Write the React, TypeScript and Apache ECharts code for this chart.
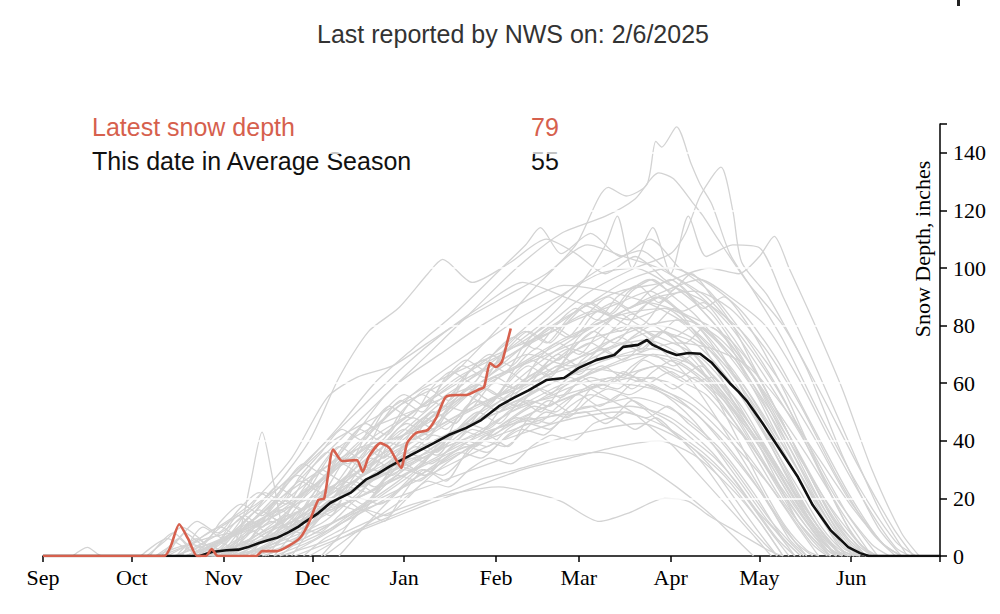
import React, { useEffect, useRef } from "react";
import * as echarts from "echarts";

// ---------- axis definitions ----------
const monthLabels = ["Sep", "Oct", "Nov", "Dec", "Jan", "Feb", "Mar", "Apr", "May", "Jun", "Jul"];
const monthLengths = [30, 31, 30, 31, 31, 28, 31, 30, 31, 30, 1];
const yMax = 150;
const yInterval = 20;

// ---------- text ----------
const titleText = "Last reported by NWS on: 2/6/2025";
const legendLabels = ["Latest snow depth", "This date in Average Season"];
const legendValues = [79, 55];
const yAxisTitle = "Snow Depth, inches";

// ---------- data: [day since Sep 1, inches] ----------
const currentSeason: number[][] = [
  [0, 0], [41, 0], [43, 3], [46, 11], [49, 6], [52, 0], [55, 0], [57, 2.4], [59, 0], [72, 0], [74, 1.7],
  [79, 1.7], [83, 3.5], [87, 6.5], [90, 12], [93, 19.5], [95, 20], [98, 37], [101, 33], [106, 33.3],
  [108, 29.2], [110, 34.4], [114, 39.2], [117, 37.5], [121, 30.6], [123, 39.2], [126, 42.7], [130, 43.8],
  [133, 48.3], [136, 55.2], [140, 55.9], [143, 55.9], [147, 57.7], [149, 58.7], [151, 67], [153, 65.6],
  [155, 67.4], [157, 75], [158, 79],
];

const averageSeason: number[][] = [
  [0, 0], [53, 0], [57, 1.4], [62, 2], [66, 2.2], [69, 3], [73, 4.5], [76, 5.5], [79, 6.3], [83, 8.3],
  [86, 10], [88, 11.5], [91, 13.5], [93, 14.9], [97, 18.4], [100, 20], [104, 22], [109, 26.5], [113, 28.5],
  [117, 31], [121, 33.3], [126, 36], [132, 39.2], [137, 42], [143, 44.5], [148, 47.2], [154, 52],
  [159, 54.9], [164, 57.5], [170, 61.1], [176, 61.8], [181, 65.3], [187, 68.1], [193, 69.8], [196, 72.6],
  [201, 73.3], [204, 75], [206, 73.3], [211, 70.9], [214, 69.8], [218, 70.5], [222, 70.2], [226, 67],
  [232, 60], [235, 57], [238, 53.5], [243, 46.2], [249, 36.8], [255, 27.4], [260, 17.7], [266, 9],
  [272, 3.1], [276, 1], [279, 0], [303, 0],
];

const pastSeasons: number[][][] = [
  [[48,0],[60,5],[75,12],[92,25],[105,38],[120,52],[135,60],[150,75],[165,92],[180,108],[191,128],[197,125],[204,129],[207,144],[209,142],[214,149],[219,136],[222,129],[226,122],[232,105],[240,92],[250,75],[262,50],[275,25],[288,5],[295,0]],
  [[40,0],[55,6],[70,10],[85,22],[100,35],[115,55],[130,70],[145,85],[160,100],[175,112],[190,118],[200,124],[208,133],[213,131],[220,122],[223,118],[228,110],[238,95],[250,80],[262,58],[275,32],[287,10],[294,0]],
  [[60,0],[78,8],[95,20],[110,40],[125,50],[140,62],[155,70],[170,80],[185,92],[200,100],[212,105],[217,112],[222,125],[229,135],[233,120],[236,102],[245,90],[258,65],[270,35],[282,10],[290,0]],
  [[70,0],[85,10],[100,22],[118,35],[135,48],[150,62],[165,75],[180,85],[195,92],[210,95],[225,100],[235,98],[242,104],[247,111],[252,100],[260,82],[270,58],[280,30],[290,8],[296,0]],
  [[45,0],[60,8],[75,20],[90,40],[100,62],[110,78],[120,86],[130,98],[135,103],[145,95],[158,102],[170,110],[180,105],[190,98],[200,104],[210,96],[220,88],[232,74],[245,55],[258,35],[270,15],[280,0]],
  [[50,0],[68,10],[85,28],[100,45],[112,60],[125,72],[140,85],[155,100],[163,108],[168,114],[175,105],[185,112],[195,104],[205,110],[215,100],[225,92],[238,75],[250,55],[262,30],[273,8],[280,0]],
  [[55,0],[72,6],[90,18],[108,30],[125,45],[140,58],[155,70],[170,82],[182,95],[190,108],[194,118],[199,100],[206,114],[212,98],[218,118],[224,104],[233,108],[242,107],[250,90],[260,68],[272,40],[283,15],[292,0]],
  [[38,0],[50,4],[62,0],[75,8],[90,15],[105,30],[120,42],[135,55],[150,65],[165,74],[180,82],[195,88],[205,92],[215,85],[228,78],[240,62],[252,40],[263,18],[272,3],[278,0]],
  [[65,0],[80,5],[95,12],[110,25],[125,38],[140,48],[155,56],[170,66],[185,74],[198,80],[208,76],[220,70],[232,55],[244,38],[255,20],[266,5],[272,0]],
  [[80,0],[95,5],[110,12],[125,18],[140,22],[154,24],[165,22],[175,19],[188,12],[198,15],[210,20],[218,19],[225,14],[235,8],[245,2],[250,0]],
  [[58,0],[72,4],[88,12],[100,20],[115,28],[130,35],[145,42],[158,50],[170,55],[182,60],[195,62],[208,58],[220,52],[232,40],[245,25],[255,10],[262,0]],
  [[75,0],[92,8],[108,18],[122,30],[138,40],[152,52],[168,64],[182,75],[196,85],[210,92],[222,96],[232,90],[244,80],[255,62],[266,40],[278,18],[288,3],[293,0]],
  [[55,0],[65,5],[70,25],[74,43],[78,25],[82,10],[95,15],[110,22],[125,30],[140,38],[155,45],[170,52],[185,58],[200,62],[212,60],[225,50],[238,35],[250,18],[260,4],[265,0]],
  [[62,0],[75,3],[88,10],[102,18],[118,27],[132,38],[148,48],[162,55],[176,62],[190,68],[204,72],[214,70],[226,60],[238,45],[250,28],[262,10],[270,0]],
  [[33,0],[42,6],[50,2],[60,10],[72,18],[85,28],[98,40],[112,48],[128,58],[142,65],[158,72],[172,78],[186,85],[198,82],[210,86],[222,76],[235,60],[248,40],[260,18],[270,3],[276,0]],
  [[72,0],[88,6],[102,14],[118,22],[134,30],[150,38],[166,44],[180,48],[195,50],[210,45],[224,35],[236,22],[246,8],[252,0]],
  [[52,0],[66,8],[82,16],[96,28],[110,38],[125,50],[140,60],[155,68],[170,78],[185,88],[198,96],[212,100],[224,95],[236,85],[248,68],[260,45],[272,22],[283,5],[290,0]],
  [[46,0],[60,10],[70,4],[84,12],[98,22],[112,34],[128,42],[142,50],[158,58],[174,66],[190,72],[204,75],[218,68],[230,55],[242,38],[254,18],[264,4],[270,0]],
  [[68,0],[82,8],[96,18],[110,26],[126,34],[142,44],[158,52],[172,60],[186,65],[200,62],[214,55],[228,42],[240,26],[250,10],[258,0]],
  [[57,0],[70,6],[84,14],[98,24],[112,36],[128,46],[144,58],[160,66],[175,75],[190,82],[204,88],[216,84],[228,74],[240,58],[252,38],[264,16],[274,2],[280,0]],
  [[85,0],[100,6],[115,12],[130,18],[146,24],[162,30],[178,34],[194,38],[208,40],[220,35],[232,24],[242,12],[250,0]],
  [[44,0],[58,5],[72,12],[88,22],[104,34],[120,46],[136,58],[152,70],[166,82],[180,94],[192,102],[202,106],[212,98],[224,90],[236,76],[248,58],[260,36],[272,14],[282,0]],
  [[95,0],[108,10],[122,20],[136,32],[150,42],[164,52],[178,60],[192,66],[206,70],[220,66],[232,54],[244,36],[256,16],[266,2],[270,0]],
  [[60,0],[74,5],[90,14],[106,20],[122,28],[138,36],[154,42],[170,48],[186,52],[200,55],[214,50],[228,38],[240,22],[250,6],[256,0]],
  [[50,0],[64,8],[78,18],[92,32],[106,46],[120,60],[134,70],[148,80],[162,88],[176,94],[190,92],[204,88],[218,80],[232,66],[244,48],[256,28],[268,8],[275,0]],
  [[78,0],[92,6],[106,16],[120,26],[134,38],[148,50],[162,58],[176,66],[190,74],[204,80],[216,82],[228,76],[240,62],[252,42],[264,20],[276,4],[282,0]],
  [[66,0],[80,4],[94,10],[108,16],[124,22],[140,28],[156,34],[172,40],[188,44],[202,46],[216,40],[230,28],[242,12],[250,0]],
  [[54,0],[68,10],[80,20],[94,30],[108,38],[122,42],[136,50],[150,62],[164,70],[178,66],[192,72],[206,78],[220,74],[234,58],[246,38],[258,16],[268,2],[273,0]],
  [[82,0],[96,8],[110,18],[124,28],[138,42],[152,54],[166,66],[180,76],[194,84],[208,90],[220,92],[232,86],[244,72],[256,52],[268,28],[280,8],[288,0]],
  [[36,0],[44,8],[50,3],[58,0],[70,6],[84,14],[98,22],[112,30],[128,38],[144,46],[160,52],[176,56],[192,60],[206,58],[220,50],[232,36],[244,20],[254,5],[260,0]],
  [[62,0],[76,10],[90,22],[104,36],[118,50],[132,62],[146,72],[160,82],[174,90],[188,98],[200,100],[212,94],[224,88],[236,78],[248,62],[260,42],[272,20],[284,4],[290,0]],
  [[48,0],[62,6],[76,14],[90,20],[104,28],[118,36],[132,44],[146,52],[160,58],[174,64],[188,68],[202,70],[216,66],[230,54],[242,38],[254,18],[264,4],[270,0]],
  [[70,0],[84,8],[98,20],[112,32],[126,44],[140,54],[154,62],[168,70],[182,78],[196,84],[210,86],[222,80],[234,68],[246,50],[258,30],[270,10],[278,0]],
  [[90,0],[104,8],[118,14],[132,20],[146,26],[160,30],[174,34],[188,36],[202,32],[214,24],[226,14],[236,4],[240,0]],
  [[42,0],[56,8],[70,18],[84,34],[96,55],[106,62],[118,66],[130,74],[142,82],[156,90],[170,98],[184,108],[196,104],[208,100],[220,92],[232,80],[244,62],[256,42],[268,20],[280,4],[286,0]],
  [[10,0],[15,3],[20,0],[55,0],[66,6],[78,12],[92,18],[106,24],[120,32],[136,38],[152,44],[168,48],[184,50],[198,52],[212,48],[226,36],[238,20],[248,6],[254,0]],
  [[74,0],[88,5],[102,12],[116,20],[130,30],[144,40],[158,50],[172,58],[186,64],[200,70],[214,74],[226,72],[238,66],[250,52],[262,34],[274,16],[284,4],[290,0]],
  [[52,0],[66,10],[80,24],[94,38],[108,52],[122,66],[136,78],[150,88],[162,95],[176,90],[190,84],[204,76],[218,62],[230,44],[242,24],[252,6],[258,0]],
  [[100,0],[112,14],[124,26],[138,34],[152,42],[166,50],[180,56],[194,62],[208,66],[222,60],[234,46],[246,28],[258,10],[266,0]],
  [[64,0],[76,6],[88,20],[98,36],[110,44],[124,50],[138,56],[152,62],[166,68],[180,74],[194,78],[208,80],[222,74],[236,60],[248,40],[260,18],[270,2],[276,0]],
  [[58,0],[64,4],[70,9],[76,6],[83,12],[90,18],[97,16],[104,24],[111,30],[118,28],[125,36],[132,42],[139,40],[146,48],[153,55],[160,52],[167,60],[174,66],[181,63],[188,70],[195,74],[202,71],[209,78],[216,72],[223,64],[230,50],[237,36],[244,22],[251,10],[258,2],[262,0]],
  [[45,0],[52,6],[58,2],[66,10],[73,16],[80,12],[87,22],[94,30],[101,26],[108,34],[115,40],[122,38],[129,46],[136,52],[143,50],[150,58],[157,64],[164,60],[171,68],[178,72],[185,70],[192,78],[199,84],[206,80],[213,86],[220,78],[227,66],[234,52],[241,40],[248,26],[255,12],[262,3],[266,0]],
  [[70,0],[77,8],[84,5],[91,14],[98,20],[105,28],[112,24],[119,32],[126,38],[133,35],[140,44],[147,50],[154,46],[161,54],[168,58],[175,55],[182,62],[189,66],[196,62],[203,68],[210,64],[217,60],[224,56],[231,48],[238,40],[245,30],[252,20],[259,10],[265,2],[268,0]],
  [[38,0],[45,5],[52,12],[59,8],[66,16],[73,22],[80,18],[87,28],[94,36],[101,44],[108,40],[115,50],[122,56],[129,52],[136,62],[143,68],[150,64],[157,72],[164,78],[171,74],[178,82],[185,88],[192,84],[199,92],[206,96],[213,90],[220,84],[227,76],[234,68],[241,56],[248,42],[255,30],[262,16],[269,5],[274,0]],
  [[88,0],[95,6],[102,10],[109,16],[116,14],[123,20],[130,26],[137,24],[144,30],[151,34],[158,32],[165,38],[172,42],[179,40],[186,46],[193,48],[200,44],[207,48],[214,42],[221,36],[228,28],[235,18],[242,8],[248,0]],
  [[62,0],[69,7],[76,14],[83,10],[90,20],[97,28],[104,34],[111,30],[118,42],[125,48],[132,44],[139,54],[146,60],[153,56],[160,66],[167,72],[174,68],[181,76],[188,82],[195,78],[202,86],[209,90],[216,85],[223,88],[230,80],[237,70],[244,58],[251,44],[258,30],[265,16],[272,6],[278,0]],
  [[50,0],[56,4],[63,0],[70,6],[77,12],[84,9],[91,18],[98,24],[105,20],[112,28],[119,34],[126,30],[133,38],[140,44],[147,42],[154,50],[161,54],[168,50],[175,58],[182,62],[189,58],[196,64],[203,60],[210,56],[217,50],[224,42],[231,32],[238,22],[245,12],[252,4],[256,0]],
  [[76,0],[83,10],[90,18],[97,14],[104,26],[111,34],[118,30],[125,42],[132,50],[139,46],[146,56],[153,62],[160,58],[167,68],[174,74],[181,70],[188,78],[195,84],[202,80],[209,88],[216,92],[223,86],[230,90],[237,82],[244,70],[251,56],[258,40],[265,24],[272,10],[278,2],[282,0]],
  [[56,0],[62,8],[68,14],[74,10],[80,18],[87,26],[94,22],[101,32],[108,38],[115,34],[122,42],[129,48],[136,44],[143,52],[150,58],[157,54],[164,60],[171,56],[178,62],[185,58],[192,54],[199,50],[206,44],[213,38],[220,30],[227,22],[234,14],[241,6],[246,0]],
  [[66,0],[73,5],[80,10],[87,8],[94,16],[101,22],[108,18],[115,26],[122,32],[129,28],[136,36],[143,40],[150,38],[157,44],[164,48],[171,46],[178,52],[185,56],[192,54],[199,60],[206,62],[213,58],[220,62],[227,56],[234,46],[241,34],[248,22],[255,12],[262,4],[266,0]],
  [[42,0],[48,8],[54,4],[60,12],[67,18],[74,14],[81,24],[88,32],[95,28],[102,38],[109,46],[116,42],[123,52],[130,58],[137,54],[144,64],[151,70],[158,66],[165,74],[172,80],[179,76],[186,84],[193,88],[200,84],[207,90],[214,86],[221,80],[228,72],[235,60],[242,46],[249,32],[256,18],[263,6],[268,0]],
  [[94,0],[101,8],[108,16],[115,12],[122,22],[129,30],[136,26],[143,36],[150,42],[157,38],[164,48],[171,54],[178,50],[185,58],[192,62],[199,58],[206,64],[213,68],[220,64],[227,58],[234,48],[241,36],[248,24],[255,12],[262,4],[266,0]],
  [[60,0],[67,6],[74,12],[81,20],[88,16],[95,26],[102,34],[109,30],[116,40],[123,46],[130,42],[137,52],[144,58],[151,54],[158,62],[165,68],[172,64],[179,72],[186,78],[193,74],[200,80],[207,76],[214,82],[221,76],[228,68],[235,58],[242,46],[249,34],[256,22],[263,10],[270,2],[274,0]],
  [[52,0],[59,5],[66,2],[73,10],[80,16],[87,12],[94,20],[101,26],[108,24],[115,30],[122,36],[129,34],[136,40],[143,46],[150,44],[157,50],[164,54],[171,52],[178,58],[185,62],[192,60],[199,66],[206,70],[213,66],[220,70],[227,64],[234,54],[241,42],[248,30],[255,18],[262,8],[268,0]],
  [[80,0],[87,6],[94,14],[101,20],[108,16],[115,26],[122,30],[129,28],[136,34],[143,38],[150,36],[157,42],[164,46],[171,44],[178,50],[185,52],[192,48],[199,54],[206,50],[213,46],[220,40],[227,34],[234,26],[241,16],[248,8],[254,0]],
  [[47,0],[54,10],[61,6],[68,14],[75,22],[82,18],[89,28],[96,36],[103,32],[110,44],[117,52],[124,48],[131,58],[138,64],[145,60],[152,70],[159,76],[166,72],[173,80],[180,86],[187,82],[194,90],[201,94],[208,88],[215,94],[222,86],[229,78],[236,66],[243,54],[250,40],[257,26],[264,14],[271,4],[276,0]],
  [[72,0],[79,4],[86,10],[93,8],[100,14],[107,20],[114,18],[121,24],[128,30],[135,28],[142,34],[149,40],[156,38],[163,44],[170,50],[177,48],[184,54],[191,58],[198,56],[205,60],[212,64],[219,60],[226,62],[233,54],[240,44],[247,32],[254,20],[261,10],[268,2],[272,0]],
  [[64,0],[70,12],[76,8],[83,16],[90,24],[97,20],[104,30],[111,38],[118,34],[125,44],[132,50],[139,46],[146,56],[153,60],[160,58],[167,64],[174,70],[181,66],[188,72],[195,76],[202,72],[209,78],[216,74],[223,66],[230,56],[237,44],[244,32],[251,20],[258,10],[265,2],[268,0]],
  [[84,0],[91,10],[98,18],[105,26],[112,22],[119,34],[126,40],[133,36],[140,48],[147,54],[154,50],[161,60],[168,64],[175,60],[182,68],[189,72],[196,68],[203,74],[210,78],[217,74],[224,80],[231,76],[238,68],[245,56],[252,42],[259,28],[266,14],[273,4],[278,0]],
  [[40,0],[46,6],[52,0],[62,0],[69,8],[76,14],[83,10],[90,18],[97,24],[104,22],[111,28],[118,32],[125,30],[132,36],[139,40],[146,38],[153,44],[160,48],[167,46],[174,52],[181,56],[188,52],[195,56],[202,52],[209,46],[216,40],[223,32],[230,22],[237,12],[244,4],[248,0]],
  [[58,0],[65,8],[72,16],[79,24],[86,20],[93,30],[100,38],[107,34],[114,46],[121,54],[128,50],[135,60],[142,66],[149,62],[156,72],[163,78],[170,74],[177,82],[184,88],[191,84],[198,92],[205,96],[212,92],[219,98],[226,90],[233,80],[240,66],[247,52],[254,38],[261,24],[268,12],[275,4],[280,0]],
  [[68,0],[75,6],[82,14],[89,10],[96,18],[103,24],[110,22],[117,28],[124,34],[131,32],[138,38],[145,44],[152,42],[159,48],[166,52],[173,50],[180,56],[187,60],[194,58],[201,64],[208,66],[215,62],[222,66],[229,60],[236,52],[243,40],[250,28],[257,16],[264,6],[270,0]],
  [[54,0],[60,6],[66,14],[72,10],[79,20],[86,28],[93,24],[100,36],[107,44],[114,40],[121,50],[128,56],[135,52],[142,62],[149,68],[156,64],[163,74],[170,80],[177,76],[184,84],[191,90],[198,86],[205,92],[212,96],[219,90],[226,84],[233,74],[240,62],[247,48],[254,34],[261,20],[268,8],[274,0]],
  [[78,0],[85,8],[92,12],[99,18],[106,16],[113,22],[120,28],[127,26],[134,32],[141,36],[148,34],[155,40],[162,44],[169,42],[176,48],[183,50],[190,46],[197,50],[204,48],[211,52],[218,46],[225,40],[232,32],[239,22],[246,12],[253,4],[257,0]],
  [[35,0],[41,5],[47,10],[53,6],[59,0],[66,8],[73,14],[80,20],[87,16],[94,26],[101,32],[108,28],[115,38],[122,44],[129,40],[136,50],[143,56],[150,52],[157,60],[164,66],[171,62],[178,70],[185,74],[192,70],[199,76],[206,80],[213,76],[220,80],[227,72],[234,62],[241,50],[248,36],[255,22],[262,10],[268,2],[272,0]],
];

// white grid segments drawn over the historic seasons: [startDay, endDay]
const gridSpan = [65, 278];

const RED = "#d6604d";
const SERIF = "'Liberation Serif', 'Times New Roman', serif";
const SANS = "'Liberation Sans', Arial, Helvetica, sans-serif";

export default function App() {
  const ref = useRef<HTMLDivElement>(null);

  useEffect(() => {
    if (!ref.current) return;
    const chart = echarts.init(ref.current, undefined, { renderer: "svg" });

    const categories: string[] = [];
    const monthStart = new Set<number>();
    const startLabel: Record<number, string> = {};
    monthLabels.forEach((m, i) => {
      monthStart.add(categories.length);
      startLabel[categories.length] = m === "Jul" ? "" : m;
      for (let d = 1; d <= monthLengths[i]; d++) categories.push(`${m} ${d}`);
    });

    const gridLevels: number[] = [];
    for (let v = yInterval; v < yMax; v += yInterval) gridLevels.push(v);

    const series: any[] = pastSeasons.map((s) => ({
      type: "line",
      data: s,
      smooth: 0.25,
      symbol: "none",
      z: 2,
      silent: true,
      lineStyle: { color: "#d3d3d3", width: 1.3 },
    }));

    series.push({
      type: "line",
      data: [],
      z: 5,
      silent: true,
      markLine: {
        z: 5,
        silent: true,
        symbol: "none",
        label: { show: false },
        lineStyle: { color: "#ffffff", width: 1.6, type: "solid" },
        data: gridLevels.map((v) => [{ coord: [gridSpan[0], v] }, { coord: [gridSpan[1], v] }]),
      },
    });

    series.push({
      type: "line",
      data: averageSeason,
      symbol: "none",
      z: 10,
      silent: true,
      lineStyle: { color: "#111111", width: 2.6 },
    });
    series.push({
      type: "line",
      data: currentSeason,
      smooth: 0.2,
      symbol: "none",
      z: 11,
      silent: true,
      lineStyle: { color: RED, width: 2.6 },
    });

    chart.setOption({
      animation: false,
      backgroundColor: "#ffffff",
      grid: { left: 43, right: 60, top: 124, bottom: 58 },
      xAxis: {
        type: "category",
        data: categories,
        boundaryGap: false,
        axisLine: { lineStyle: { color: "#000", width: 1.5 } },
        axisTick: {
          show: true,
          length: 6,
          interval: (idx: number) => monthStart.has(idx) || idx === categories.length - 1,
          lineStyle: { color: "#000", width: 1.5 },
        },
        axisLabel: {
          interval: (idx: number) => monthStart.has(idx),
          formatter: (_v: string, idx: number) => startLabel[idx] ?? "",
          margin: 10,
          color: "#000",
          fontFamily: SERIF,
          fontSize: 22,
        },
        splitLine: { show: false },
      },
      yAxis: {
        type: "value",
        position: "right",
        min: 0,
        max: yMax,
        interval: yInterval,
        axisLine: { show: true, lineStyle: { color: "#000", width: 1.5 } },
        axisTick: { show: true, length: 7, lineStyle: { color: "#000", width: 1.5 } },
        axisLabel: {
          margin: 13,
          color: "#000",
          fontFamily: SERIF,
          fontSize: 22,
          formatter: (v: number) => (v === yMax ? "" : String(v)),
        },
        splitLine: { show: false },
      },
      graphic: [
        {
          type: "text",
          x: 513,
          y: 34,
          style: { text: titleText, fill: "#333", font: `25px ${SANS}`, align: "center", verticalAlign: "middle" },
        },
        {
          type: "text",
          x: 92,
          y: 127,
          style: { text: legendLabels[0], fill: RED, font: `25px ${SANS}`, align: "left", verticalAlign: "middle" },
        },
        {
          type: "text",
          x: 531,
          y: 127,
          style: { text: String(legendValues[0]), fill: RED, font: `25px ${SANS}`, align: "left", verticalAlign: "middle" },
        },
        {
          type: "text",
          x: 92,
          y: 161,
          style: { text: legendLabels[1], fill: "#111", font: `25px ${SANS}`, align: "left", verticalAlign: "middle" },
        },
        {
          type: "text",
          x: 531,
          y: 161,
          style: { text: String(legendValues[1]), fill: "#111", font: `25px ${SANS}`, align: "left", verticalAlign: "middle" },
        },
        {
          type: "text",
          x: 922,
          y: 249,
          rotation: Math.PI / 2,
          style: { text: yAxisTitle, fill: "#000", font: `22px ${SERIF}`, align: "center", verticalAlign: "middle" },
        },
        {
          type: "rect",
          shape: { x: 957, y: 0, width: 3, height: 6 },
          style: { fill: "#222" },
        },
      ],
      series,
    });

    return () => chart.dispose();
  }, []);

  return (
    <div
      ref={ref}
      style={{ position: "fixed", left: 0, top: 0, width: 1000, height: 614, background: "#fff" }}
    />
  );
}
